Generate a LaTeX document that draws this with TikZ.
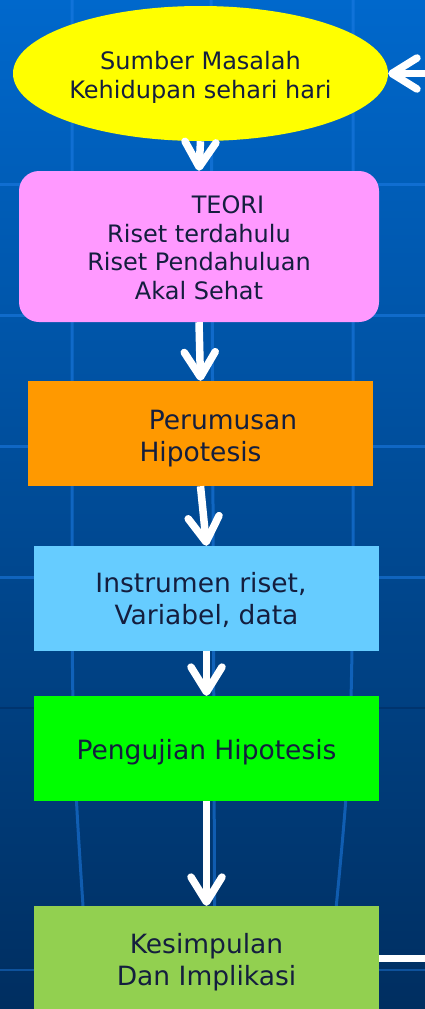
\documentclass[tikz,border=0pt]{standalone}
\usepackage{fontspec}
\setmainfont{DejaVu Sans}
\usetikzlibrary{arrows.meta,shapes.geometric}
\definecolor{bgtop}{RGB}{0,104,204}
\definecolor{bgbot}{RGB}{0,46,96}
\definecolor{gridl}{RGB}{30,125,230}
\definecolor{griddark}{RGB}{0,52,110}
\definecolor{txt}{RGB}{20,30,62}
\definecolor{cyellow}{RGB}{255,255,0}
\definecolor{cpink}{RGB}{255,153,255}
\definecolor{corange}{RGB}{255,153,0}
\definecolor{cblue}{RGB}{102,204,255}
\definecolor{cgreen}{RGB}{0,255,0}
\definecolor{clime}{RGB}{146,208,80}
\newcommand{\dn}[1]{\rule{0pt}{#1}}
\tikzset{
  srcbox/.style={ellipse, fill=cyellow, minimum width=375pt, minimum height=135pt,
    inner sep=0pt, text=txt, align=center, font=\fontsize{24}{29.5}\selectfont},
  teoribox/.style={rectangle, rounded corners=20pt, fill=cpink, minimum width=360pt,
    minimum height=151pt, inner sep=0pt, text=txt, align=center, font=\fontsize{24}{28.5}\selectfont},
  stepbox/.style={rectangle, minimum width=345pt, minimum height=105pt, inner sep=0pt,
    text=txt, align=center, font=\fontsize{26.5}{32}\selectfont},
  flow/.style={white, line width=7.5pt, -{Straight Barb[length=25pt,width=31pt,round]}},
  gridline/.style={gridl, opacity=0.55, line width=3pt}
}
\begin{document}
\begin{tikzpicture}[x=1pt,y=-1pt]
\clip (0,0) rectangle (425,1009);
\shade[top color=bgtop, bottom color=bgbot] (0,0) rectangle (425,1009);
% background grid
\foreach \yy in {184,315,446,577} \draw[gridline] (0,\yy) -- (425,\yy);
\draw[griddark, line width=2.5pt] (0,708) -- (425,708);
\draw[gridl!45!bgbot, line width=2.5pt] (0,970) -- (425,970);
\draw[gridline] (72,0) -- (72,600) .. controls (73,760) .. (90,1009);
\draw[gridline] (353,0) -- (353,560) .. controls (351,760) .. (326,1009);
\draw[gridline] (211,0) -- (215,1009);
% nodes
\node[srcbox] (src) at (200.5,73.5) {\dn{25.5pt}Sumber Masalah\\Kehidupan sehari hari};
\node[teoribox] (teori) at (199,246.5) {\dn{20.5pt}\kern58pt TEORI\\Riset terdahulu\\Riset Pendahuluan\\Akal Sehat};
\node[stepbox, fill=corange] (rumus) at (200.5,433.5) {\dn{28.5pt}\kern45pt Perumusan\\Hipotesis};
\node[stepbox, fill=cblue] (instr) at (206.5,598.5) {\dn{23pt}Instrumen riset,\kern11pt\\Variabel, data};
\node[stepbox, fill=cgreen] (uji) at (206.5,748.5) {\dn{27.5pt}Pengujian Hipotesis};
\node[stepbox, fill=clime] (kes) at (206.5,958.5) {\dn{26.5pt}Kesimpulan\\Dan Implikasi};
% connectors
\draw[flow] (src.south) -- (teori.north);
\draw[flow] (teori.south) -- (rumus.north);
\draw[flow] (rumus.south) -- (instr.north);
\draw[flow] (instr.south) -- (uji.north);
\draw[flow] (uji.south) -- (kes.north);
\draw[flow] (kes.east) -- ++(70,0) |- (src.east);
\end{tikzpicture}
\end{document}
